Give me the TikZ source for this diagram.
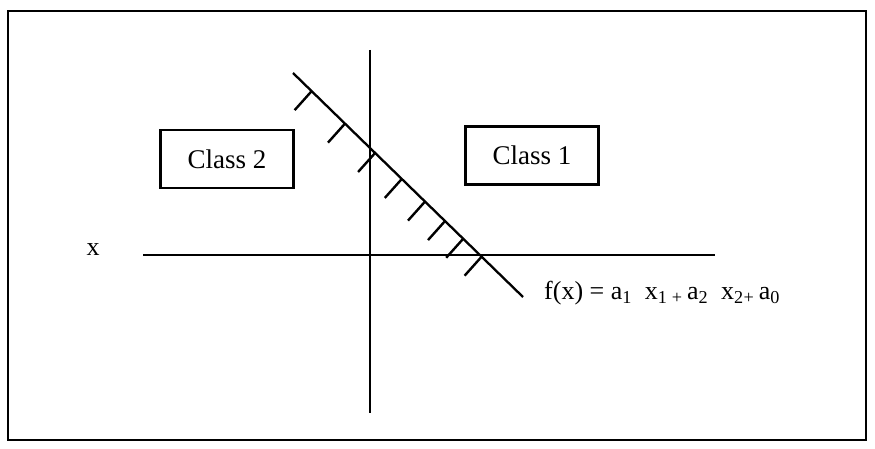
\documentclass[tikz,border=0pt]{standalone}
\usepackage{fontspec}
\setmainfont{Liberation Serif}
\usetikzlibrary{calc}
\begin{document}
\begin{tikzpicture}[x=1pt,y=-1pt,
  box/.style={draw, line width=2.4pt, minimum width=133pt, minimum height=58pt, inner sep=0pt, font=\fontsize{27}{30}\selectfont},
  axis/.style={line width=2.3pt},
  hatch/.style={line width=2.4pt},
  lbl/.style={inner sep=0pt, font=\fontsize{26}{28}\selectfont}]
\useasboundingbox (0,0) rectangle (875,449);
\draw[line width=2.8pt] (8,11) rectangle (866,440);
\coordinate (vt) at (370,50);
\coordinate (vb) at (370,413);
\draw[axis] (vt) -- (vb);
\coordinate (hl) at (143,255);
\coordinate (hr) at (715,255);
\draw[axis] (hl) -- (hr);
\coordinate (ds) at (293,73);
\coordinate (de) at (523,297);
\draw[axis] (ds) -- (de);
\foreach \t in {0.081,0.226,0.357,0.473,0.574,0.661,0.740,0.820}
  \draw[hatch] ($(ds)!\t!(de)$) -- ++(-17,19);
\node[box] (c2) at (227,159) {Class 2};
\node[box] (c1) at (532,155.5) {Class 1};
\node[lbl] (xl) at (93,250) {x};
\node[lbl, anchor=west] (fx) at (544,293) {f(x) = a\textsubscript{1}\ \ x\textsubscript{1}\,\textsubscript{+}\,a\textsubscript{2}\ \ x\textsubscript{2}\textsubscript{+}\,a\textsubscript{0}};
\end{tikzpicture}
\end{document}
